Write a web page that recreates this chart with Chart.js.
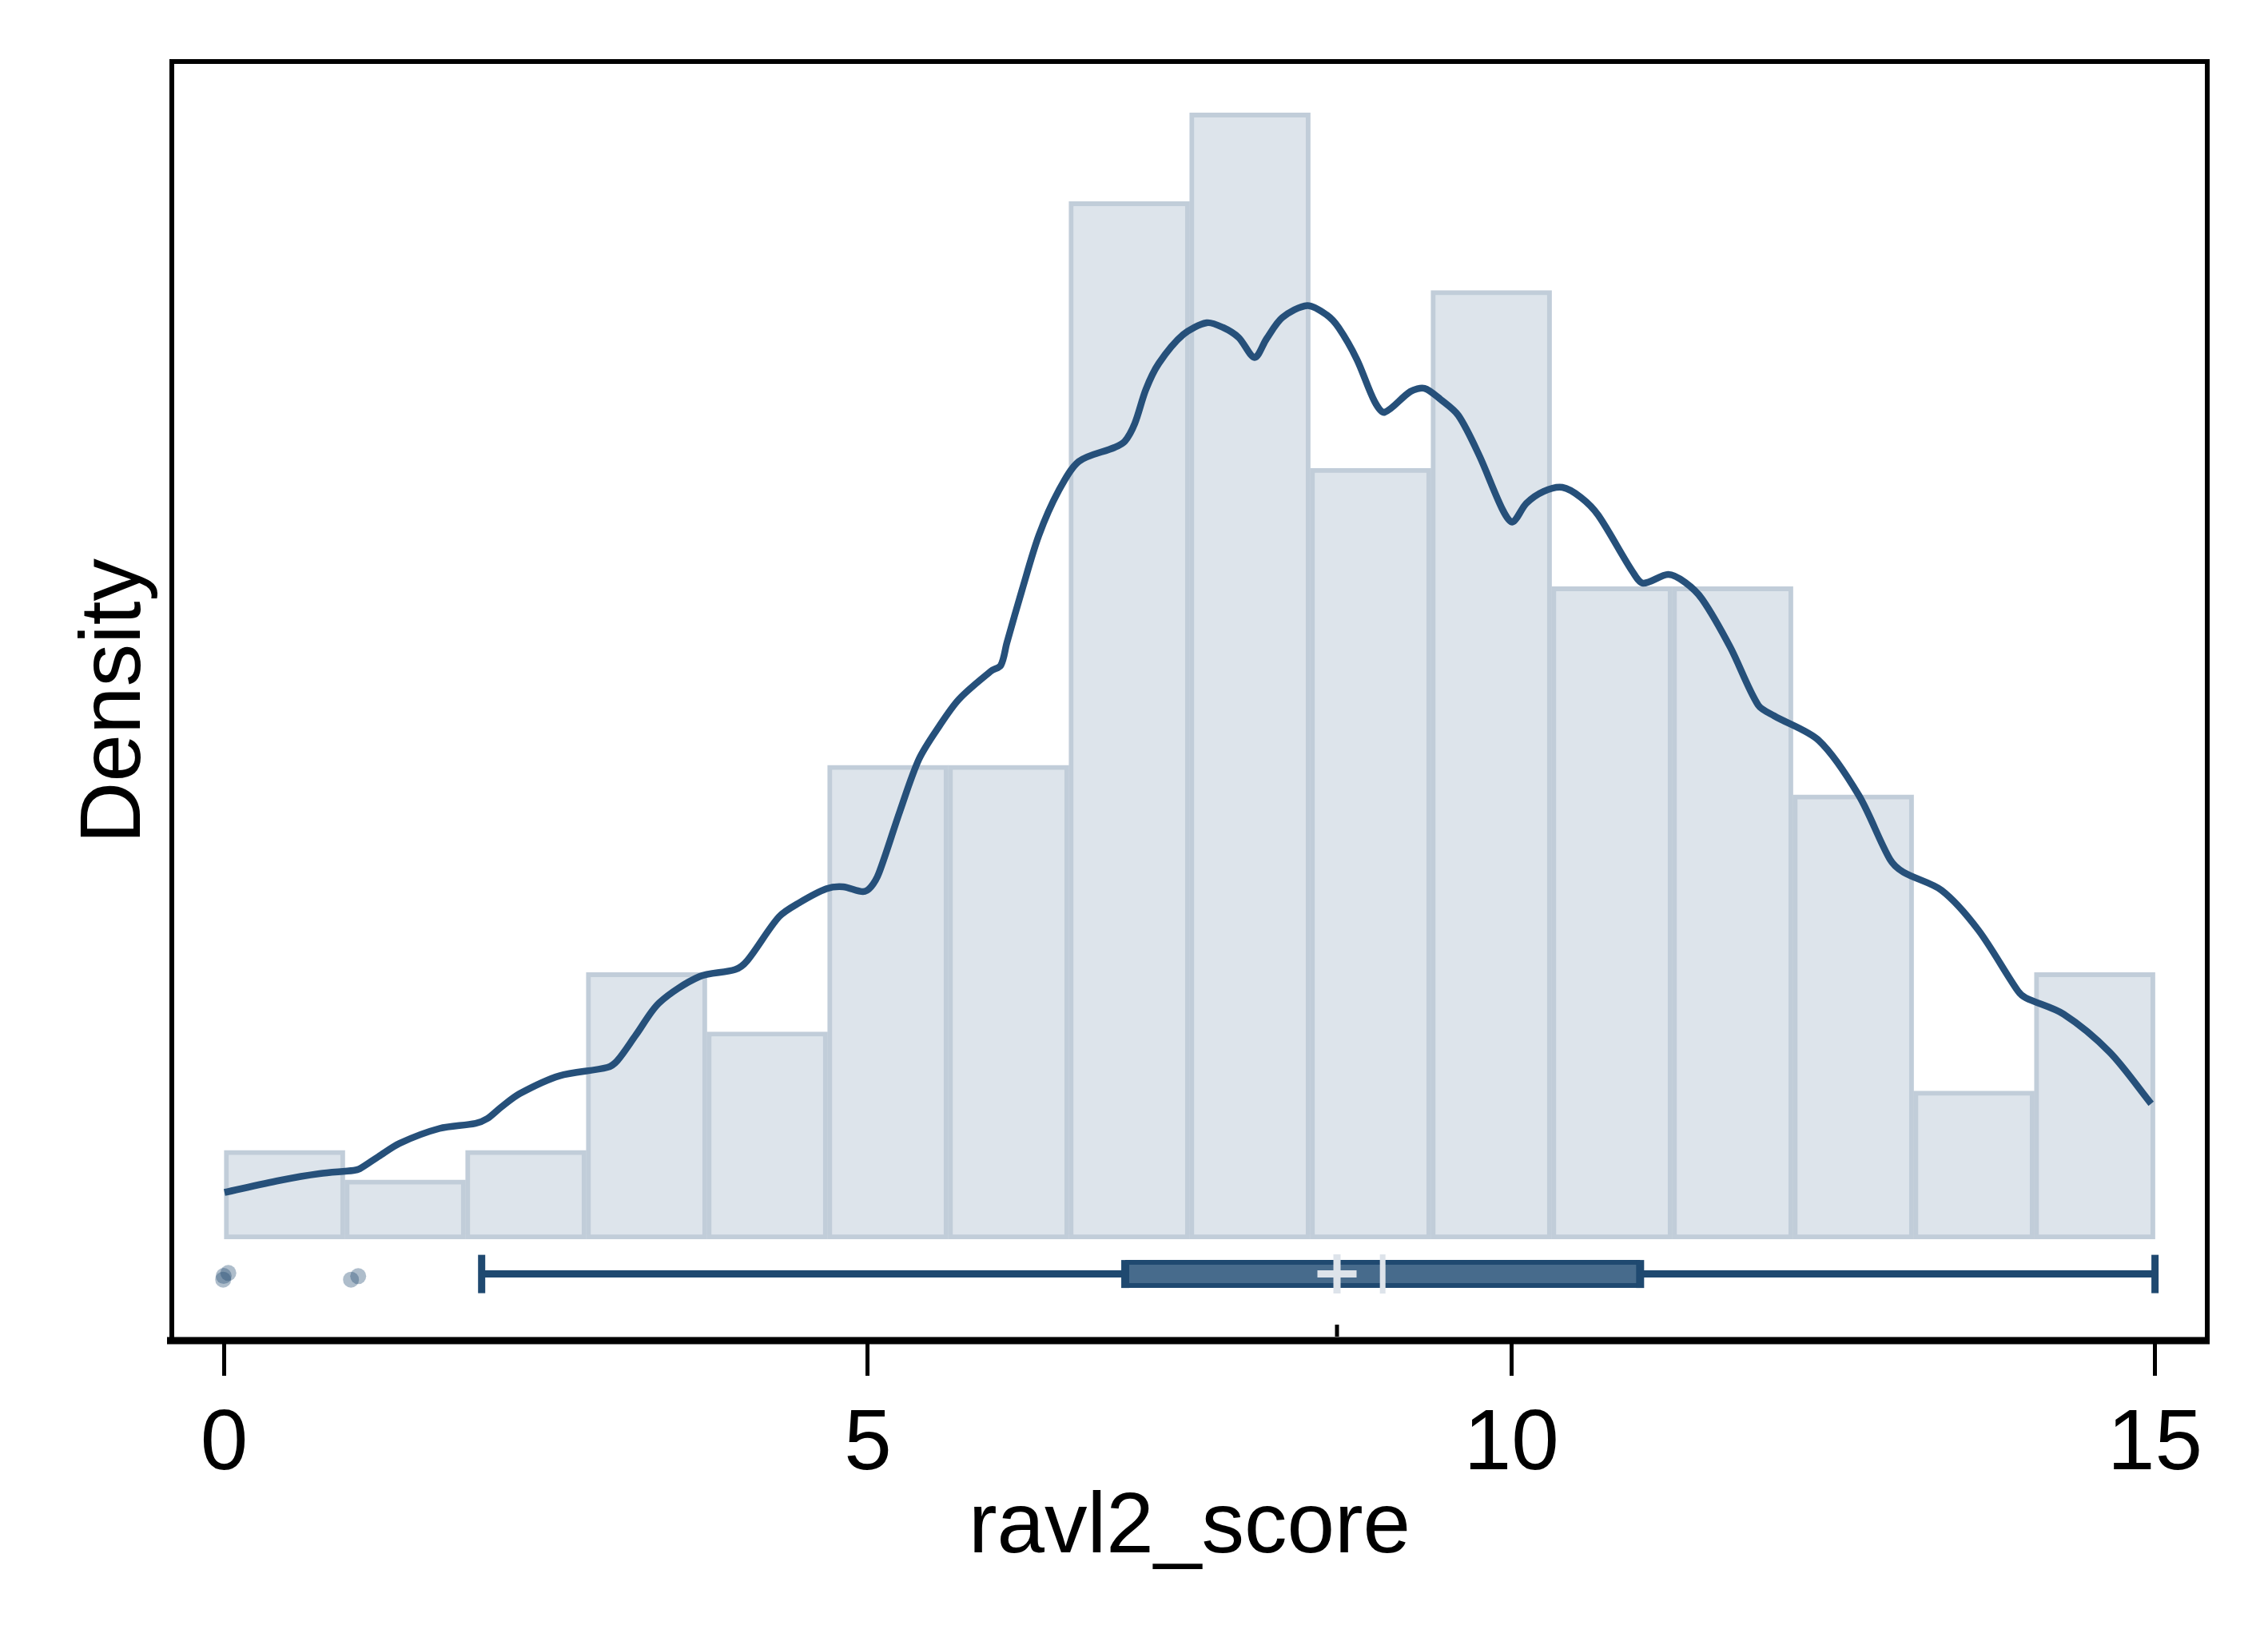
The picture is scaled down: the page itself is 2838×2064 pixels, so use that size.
<!DOCTYPE html>
<html>
<head>
<meta charset="utf-8">
<script src="https://cdn.jsdelivr.net/npm/chart.js@4"></script>
<style>
  html, body { margin: 0; padding: 0; background: #fff; }
  #wrap { width: 2838px; height: 2064px; }
</style>
</head>
<body>
<div id="wrap"><canvas id="histChart"></canvas></div>
<script>
// Histogram bins (centres) and densities
const binCenters = [0.46875, 1.40625, 2.34375, 3.28125, 4.21875, 5.15625, 6.09375, 7.03125,
  7.96875, 8.90625, 9.84375, 10.78125, 11.71875, 12.65625, 13.59375, 14.53125];
const binDensity = [0.0123, 0.0082, 0.0123, 0.0369, 0.0287, 0.0656, 0.0656, 0.1436,
  0.1559, 0.1067, 0.1313, 0.0903, 0.0903, 0.0615, 0.0205, 0.0369];

// Kernel density line
const kdeX = [0.002, 0.431, 0.741, 1.005, 1.052, 1.2, 1.362, 1.672, 1.952, 2.045, 2.15, 2.294,
  2.604, 2.977, 3.054, 3.2, 3.38, 3.69, 3.97, 4.063, 4.31, 4.466, 4.677, 4.808, 4.963, 5.025,
  5.087, 5.25, 5.398, 5.55, 5.709, 5.957, 6.034, 6.08, 6.2, 6.329, 6.48, 6.639, 6.918, 6.996,
  7.074, 7.16, 7.26, 7.45, 7.633, 7.76, 7.881, 8.005, 8.098, 8.22, 8.415, 8.564, 8.657, 8.8,
  8.937, 9.014, 9.216, 9.325, 9.45, 9.588, 9.75, 9.93, 10.008, 10.116, 10.25, 10.396, 10.54,
  10.675, 10.939, 11.023, 11.218, 11.35, 11.482, 11.7, 11.917, 12.041, 12.39, 12.7, 12.94,
  13.045, 13.342, 13.627, 13.936, 13.996, 14.29, 14.648, 14.97];
const kdeY = [0.00647, 0.00813, 0.00907, 0.00951, 0.00973, 0.01145, 0.01327, 0.01532, 0.01603,
  0.0167, 0.01825, 0.02013, 0.02261, 0.02378, 0.02471, 0.02831, 0.03273, 0.03633, 0.03732,
  0.03854, 0.04462, 0.04655, 0.04849, 0.04877, 0.0481, 0.04877, 0.0507, 0.05927, 0.06646,
  0.07088, 0.07475, 0.07862, 0.07945, 0.0825, 0.08996, 0.09742, 0.1035, 0.10765, 0.10959,
  0.11042, 0.1129, 0.1176, 0.1212, 0.1252, 0.12684, 0.12618, 0.12479, 0.12203, 0.12463,
  0.12756, 0.12922, 0.12794, 0.12618, 0.12175, 0.11595, 0.11445, 0.11733, 0.11777, 0.11622,
  0.11401, 0.10848, 0.10102, 0.09925, 0.10185, 0.1035, 0.10406, 0.10267, 0.10019, 0.09245,
  0.09079, 0.092, 0.0909, 0.08858, 0.08194, 0.07392, 0.07243, 0.069, 0.0614, 0.0526, 0.0508,
  0.04829, 0.0428, 0.03432, 0.0334, 0.03115, 0.02588, 0.01875];

// Box plot below the histogram
const boxY = -0.00482;
const whiskerLow = 2, whiskerHigh = 15;
const q1 = 7, q3 = 11;
const median = 9;
const mean = 8.645;
const outlierX = [-0.004, 0.032, -0.008, 0.985, 1.041];
const outlierY = [-0.00509, -0.00468, -0.0056, -0.0056, -0.00512];
const meanTickY = -0.01266;

// Axes
const xTicks = [0, 5, 10, 15];
const xMin = -0.407, xMax = 15.406;
const yMin = -0.01404, yMax = 0.163;

const FONT = "'Liberation Sans', Arial, Helvetica, sans-serif";
const dark = "#1f4970";
const light = "#dde3ea";

const framePlugin = {
  id: "frame",
  afterDatasetsDraw(chart) {
    const { ctx, chartArea: a } = chart;
    ctx.save();
    ctx.strokeStyle = "#000";
    ctx.lineWidth = 6;
    ctx.beginPath();
    ctx.moveTo(a.left, a.bottom);
    ctx.lineTo(a.left, a.top);
    ctx.lineTo(a.right, a.top);
    ctx.lineTo(a.right, a.bottom);
    ctx.stroke();
    ctx.lineWidth = 9;
    ctx.beginPath();
    ctx.moveTo(a.left - 6, a.bottom);
    ctx.lineTo(a.right + 3, a.bottom);
    ctx.stroke();
    ctx.restore();
  },
};

const pt = (x, y) => ({ x, y });

const ctx = document.getElementById("histChart").getContext("2d");
new Chart(ctx, {
  type: "bar",
  data: {
    datasets: [
      {
        type: "scatter",
        order: 1,
        data: [pt(mean, meanTickY)],
        pointStyle: "line",
        rotation: 90,
        pointRadius: 7.5,
        borderWidth: 5,
        borderColor: "#000",
      },
      {
        type: "scatter",
        order: 2,
        data: outlierX.map((x, i) => pt(x, outlierY[i])),
        pointRadius: 10,
        borderWidth: 0,
        backgroundColor: "rgba(31,73,112,0.36)",
      },
      {
        type: "scatter",
        order: 3,
        data: [pt(mean, boxY)],
        pointStyle: "cross",
        pointRadius: 24.5,
        borderWidth: 9,
        borderColor: light,
      },
      {
        type: "scatter",
        order: 4,
        data: [pt(median, boxY)],
        pointStyle: "line",
        rotation: 90,
        pointRadius: 24.5,
        borderWidth: 7,
        borderColor: light,
      },
      {
        // box ends
        type: "scatter",
        order: 5,
        data: [pt(q1, boxY), pt(q3, boxY)],
        pointStyle: "line",
        rotation: 90,
        pointRadius: 17.5,
        borderWidth: 10,
        borderColor: dark,
      },
      {
        // box fill
        type: "line",
        order: 6,
        data: [pt(q1, boxY), pt(q3, boxY)],
        borderColor: "#476b8c",
        borderWidth: 23,
        borderCapStyle: "butt",
        pointRadius: 0,
      },
      {
        // box outline
        type: "line",
        order: 7,
        data: [pt(q1, boxY), pt(q3, boxY)],
        borderColor: dark,
        borderWidth: 35,
        borderCapStyle: "butt",
        pointRadius: 0,
      },
      {
        type: "scatter",
        order: 8,
        data: [pt(whiskerLow, boxY), pt(whiskerHigh, boxY)],
        pointStyle: "line",
        rotation: 90,
        pointRadius: 24,
        borderWidth: 9,
        borderColor: dark,
      },
      {
        type: "line",
        order: 9,
        data: [pt(whiskerLow, boxY), pt(whiskerHigh, boxY)],
        borderColor: dark,
        borderWidth: 9,
        pointRadius: 0,
      },
      {
        type: "line",
        order: 10,
        data: kdeX.map((x, i) => pt(x, kdeY[i])),
        borderColor: "#26507a",
        borderWidth: 8.5,
        borderJoinStyle: "round",
        pointRadius: 0,
        tension: 0.3,
        fill: false,
      },
      {
        type: "bar",
        order: 11,
        data: binCenters.map((x, i) => pt(x, binDensity[i])),
        backgroundColor: "#dde4eb",
        borderColor: "#c1cdd9",
        borderWidth: 6,
        borderSkipped: false,
        categoryPercentage: 1,
        barPercentage: 1,
      },
    ],
  },
  options: {
    responsive: true,
    maintainAspectRatio: false,
    devicePixelRatio: 1,
    animation: false,
    events: [],
    layout: { padding: { top: 77, right: 76, bottom: 0, left: 0 } },
    plugins: { legend: { display: false }, tooltip: { enabled: false } },
    scales: {
      x: {
        type: "linear",
        position: "bottom",
        min: xMin,
        max: xMax,
        offset: false,
        afterBuildTicks: (s) => { s.ticks = xTicks.map((v) => ({ value: v })); },
        afterFit: (s) => { s.height = 386; },
        border: { display: false },
        grid: {
          offset: false,
          drawOnChartArea: false,
          drawTicks: true,
          tickLength: 44,
          tickWidth: 5,
          tickColor: "#000",
        },
        ticks: {
          color: "#000",
          padding: 23,
          maxRotation: 0,
          autoSkip: false,
          font: { family: FONT, size: 107, lineHeight: 1.2 },
        },
        title: {
          display: true,
          text: "ravl2_score",
          color: "#000",
          padding: { top: 0, bottom: 86 },
          font: { family: FONT, size: 107, lineHeight: 1.2 },
        },
      },
      y: {
        type: "linear",
        position: "left",
        min: yMin,
        max: yMax,
        offset: false,
        beginAtZero: false,
        afterFit: (s) => { s.width = 215; },
        border: { display: false },
        grid: { display: false, offset: false },
        ticks: { display: false },
        title: {
          display: true,
          text: "Density",
          color: "#000",
          padding: { top: 81, bottom: 0 },
          font: { family: FONT, size: 107, lineHeight: 1.2 },
        },
      },
    },
  },
  plugins: [framePlugin],
});
</script>
</body>
</html>
